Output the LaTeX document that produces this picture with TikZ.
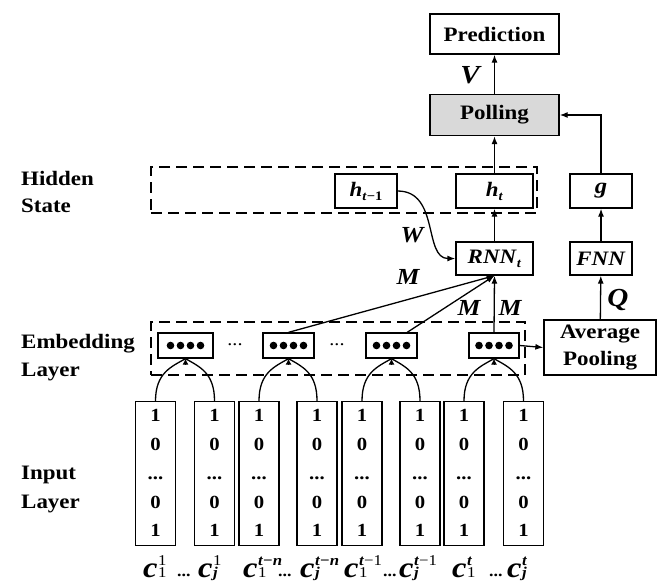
\documentclass[tikz,border=0pt]{standalone}
\usepackage{fontspec}
\setmainfont{Liberation Serif}[FakeStretch=1.12]
\usetikzlibrary{arrows.meta,calc}
\newcommand\bi[1]{\textbf{\textit{#1}}}
\newcommand\subs[1]{\raisebox{-4pt}{\fontsize{13}{13}\selectfont #1}}
\newcommand\cc[2]{{\fontsize{29}{29}\selectfont\bfseries\itshape c}\kern0.5pt\rlap{\raisebox{0pt}{\fontsize{15}{15}\selectfont #1}}\raisebox{12pt}{\fontsize{15}{15}\selectfont #2}}
\newcommand\coltext{\fontsize{18.5}{28.8}\selectfont\bfseries\begin{tabular}{@{}c@{}}1\\0\\...\\0\\1\end{tabular}}
\tikzset{
  box/.style={draw, line width=1.3pt, inner sep=0pt, align=center, font=\fontsize{20.5}{27}\selectfont\bfseries},
  dashbox/.style={draw, line width=1.6pt, dash pattern=on 11pt off 6pt, inner sep=0pt},
  colbox/.style={draw, line width=1.3pt, inner sep=0pt, minimum width=40pt, minimum height=141pt},
  embox/.style={draw, line width=1.3pt, inner sep=0pt, minimum height=25pt},
  arr/.style={line width=1.3pt, -{Latex[length=8pt,width=6pt]}},
  ln/.style={line width=1.3pt},
  side/.style={font=\fontsize{20.5}{24}\selectfont\bfseries, inner sep=0pt, anchor=base west},
  wl/.style={font=\fontsize{23}{26}\selectfont\bfseries\itshape, inner sep=0pt},
  wlbig/.style={font=\fontsize{26}{28}\selectfont\bfseries\itshape, inner sep=0pt},
  clab/.style={inner sep=0pt, anchor=base west},
  cdots/.style={inner sep=0pt, anchor=base west, font=\fontsize{16}{16}\selectfont\bfseries},
  edots/.style={inner sep=0pt, font=\fontsize{18}{18}\selectfont},
  dot/.style={fill=black}
}
\begin{document}
\begin{tikzpicture}[x=1pt,y=-1pt]
\useasboundingbox (0,0) rectangle (660,587);
% groups
\node[dashbox, minimum width=386pt, minimum height=46pt] (hid) at (344,190) {};
\node[dashbox, minimum width=374pt, minimum height=53pt] (emb) at (338,348.5) {};
% side labels
\node[side] (lh1) at (21,185) {Hidden};
\node[side] (lh2) at (21,212) {State};
\node[side] (le1) at (21,348) {Embedding};
\node[side] (le2) at (21,376) {Layer};
\node[side] (li1) at (21,479) {Input};
\node[side] (li2) at (21,508) {Layer};
% top boxes
\node[box, minimum width=129pt, minimum height=40pt] (pred) at (494.5,34) {Prediction};
\node[box, fill=gray!30, minimum width=129pt, minimum height=41pt] (poll) at (494.5,115) {Polling};
\node[box, minimum width=62pt, minimum height=34pt] (h1) at (366,191) {\bi{h}\subs{\bi{t}−1}};
\node[box, minimum width=77pt, minimum height=34pt] (ht) at (494.5,191) {\bi{h}\subs{\bi{t}}};
\node[box, minimum width=62pt, minimum height=34pt] (g) at (601,191) {\fontsize{22}{22}\selectfont\bi{g}};
\node[box, minimum width=77pt, minimum height=33pt] (rnn) at (494.5,258.5) {\bi{RNN}\subs{\bi{t}}};
\node[box, minimum width=62pt, minimum height=33pt] (fnn) at (601,258.5) {\bi{FNN}};
\node[box, minimum width=112pt, minimum height=55pt] (avg) at (600,347.5) {Average\\Pooling};
% embedding boxes
\node[embox, minimum width=55pt] (e1) at (185.5,345.5) {};
\node[embox, minimum width=51pt] (e2) at (288.5,345.5) {};
\node[embox, minimum width=51pt] (e3) at (391.5,345.5) {};
\node[embox, minimum width=50pt] (e4) at (494,345.5) {};
\foreach \b in {e1,e2,e3,e4}
  \foreach \k in {-1.5,-0.5,0.5,1.5}
    \fill[dot] ($(\b.center)+(\k*10,0)$) circle (3.8pt);
\node[edots] (ed1) at (235,345) {...};
\node[edots] (ed2) at (337,345) {...};
% input columns
\node[colbox] (c1) at (155.5,473.5) {\coltext};
\node[colbox] (c2) at (214.5,473.5) {\coltext};
\node[colbox] (c3) at (259,473.5) {\coltext};
\node[colbox] (c4) at (317,473.5) {\coltext};
\node[colbox] (c5) at (362,473.5) {\coltext};
\node[colbox] (c6) at (420,473.5) {\coltext};
\node[colbox] (c7) at (464,473.5) {\coltext};
\node[colbox] (c8) at (523.5,473.5) {\coltext};
% arcs to embedding
\foreach \a/\b/\e in {c1/c2/e1,c3/c4/e2,c5/c6/e3,c7/c8/e4}{
  \draw[ln] (\a.north) .. controls +(0,-28) and +(-14,8) .. (\e.south);
  \draw[ln] (\b.north) .. controls +(0,-28) and +(14,8) .. (\e.south);
  \draw[-{Latex[length=6pt,width=6pt]}, line width=1pt] ([yshift=-5pt]\e.south) -- (\e.south);
}
% column labels
\node[clab] (l1) at (143,577) {\cc{1}{1}};
\node[cdots] (k1) at (177,576) {...};
\node[clab] (l2) at (198,577) {\cc{\bi{j}}{1}};
\node[clab] (l3) at (243,577) {\cc{1}{\bi{t}\textbf{−}\bi{n}}};
\node[cdots] (k2) at (278,576) {...};
\node[clab] (l4) at (300,577) {\cc{\bi{j}}{\bi{t}\textbf{−}\bi{n}}};
\node[clab] (l5) at (344,577) {\cc{1}{\bi{t}−1}};
\node[cdots] (k3) at (383,576) {...};
\node[clab] (l6) at (399,577) {\cc{\bi{j}}{\bi{t}−1}};
\node[clab] (l7) at (452,577) {\cc{1}{\bi{t}}};
\node[cdots] (k4) at (489,576) {...};
\node[clab] (l8) at (507,577) {\cc{\bi{j}}{\bi{t}}};
% connectors
\draw[arr] (poll) -- (pred);
\draw[arr] (ht) -- (poll);
\draw[arr] (rnn) -- (ht);
\draw[arr] (fnn) -- (g);
\draw[arr] (avg) -- (fnn);
\draw[arr] (g.north) |- (poll.east);
\draw[arr] (e4.east) -- (avg.west);
\draw[arr] (h1.east) .. controls +(42,0) and +(-32,0) .. (rnn.west);
\draw[arr] (e2.north) -- (rnn.south);
\draw[arr] (e3.40) -- (rnn.south);
\draw[arr] (e4.north) -- (rnn.south);
% weight labels
\node[wlbig] (V) at (470,75) {V};
\node[wl] (W) at (412,235) {W};
\node[wl] (M1) at (408,277) {M};
\node[wl] (M2) at (469,308) {M};
\node[wl] (M3) at (510,308) {M};
\node[wlbig] (Q) at (618,300) {Q};
\end{tikzpicture}
\end{document}
